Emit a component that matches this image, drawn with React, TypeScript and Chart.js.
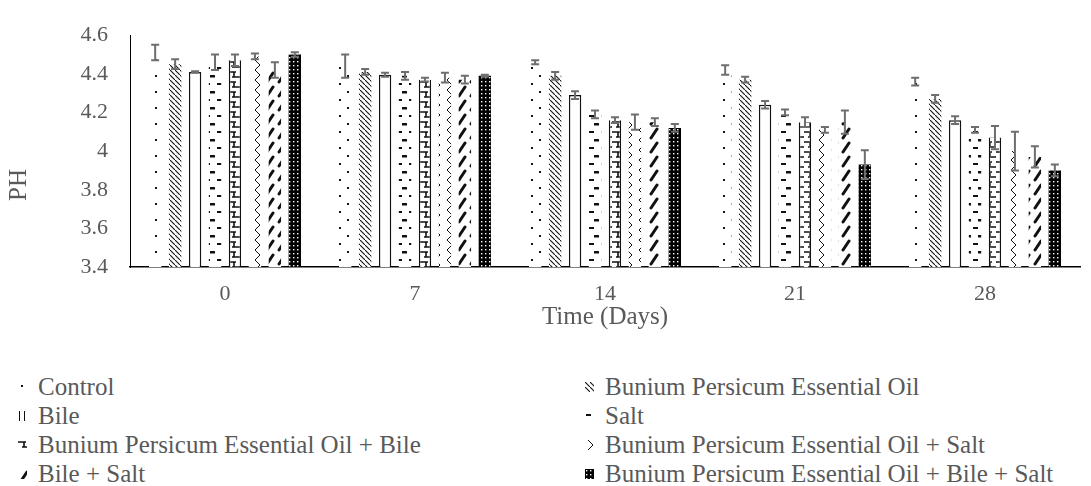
import React, { useEffect, useMemo, useRef } from "react";
import { Chart, registerables } from "chart.js";

Chart.register(...registerables);

// ---------- data ----------
const categories = ["0", "7", "14", "21", "28"];
const seriesNames = [
  "Control",
  "Bunium Persicum Essential Oil",
  "Bile",
  "Salt",
  "Bunium Persicum Essential Oil + Bile",
  "Bunium Persicum Essential Oil + Salt",
  "Bile + Salt",
  "Bunium Persicum Essential Oil + Bile + Salt",
];
const control = [4.51, 4.44, 4.46, 4.42, 4.36];
const controlErr = [0.04, 0.06, 0.01, 0.025, 0.02];
const bpeo = [4.45, 4.41, 4.39, 4.37, 4.27];
const bpeoErr = [0.025, 0.015, 0.02, 0.015, 0.02];
const bile = [4.41, 4.395, 4.29, 4.24, 4.16];
const bileErr = [0.004, 0.01, 0.02, 0.02, 0.02];
const salt = [4.46, 4.39, 4.19, 4.2, 4.11];
const saltErr = [0.04, 0.02, 0.02, 0.015, 0.015];
const bpeoBile = [4.47, 4.37, 4.16, 4.15, 4.07];
const bpeoBileErr = [0.03, 0.01, 0.015, 0.025, 0.06];
const bpeoSalt = [4.49, 4.38, 4.15, 4.11, 4.0];
const bpeoSaltErr = [0.015, 0.025, 0.04, 0.015, 0.1];
const bileSalt = [4.42, 4.37, 4.15, 4.15, 3.97];
const bileSaltErr = [0.04, 0.02, 0.02, 0.06, 0.055];
const allThree = [4.5, 4.39, 4.12, 3.93, 3.9];
const allThreeErr = [0.012, 0.005, 0.02, 0.075, 0.03];
const yTicks = [3.4, 3.6, 3.8, 4.0, 4.2, 4.4, 4.6];

const seriesValues = [control, bpeo, bile, salt, bpeoBile, bpeoSalt, bileSalt, allThree];
const seriesErrors = [controlErr, bpeoErr, bileErr, saltErr, bpeoBileErr, bpeoSaltErr, bileSaltErr, allThreeErr];
const patternKinds = ["dots", "backslash", "outline", "dashes", "brick", "zigzag", "slash", "blackdots"];

const FONT = '"Liberation Serif", "DejaVu Serif", "Noto Serif", Times, serif';
const TEXT = "#595959";

// ---------- pattern tiles ----------
function makeTile(kind: string): HTMLCanvasElement {
  const c = document.createElement("canvas");
  const g = c.getContext("2d") as CanvasRenderingContext2D;
  const size = (w: number, h: number) => {
    c.width = w;
    c.height = h;
    g.fillStyle = "#ffffff";
    g.fillRect(0, 0, w, h);
  };
  switch (kind) {
    case "dots":
      size(16, 16);
      g.fillStyle = "#111";
      g.fillRect(3, 3, 2, 2);
      g.fillRect(11, 11, 2, 2);
      break;
    case "backslash":
      size(5, 5);
      g.strokeStyle = "#111";
      g.lineWidth = 1.1;
      g.beginPath();
      g.moveTo(-1, -1);
      g.lineTo(6, 6);
      g.stroke();
      break;
    case "outline":
      size(4, 4);
      break;
    case "dashes":
      size(12, 16);
      g.fillStyle = "#111";
      g.fillRect(1, 3, 5, 2);
      g.fillRect(6, 11, 5, 2.5);
      break;
    case "brick":
      size(12, 10);
      g.strokeStyle = "#111";
      g.lineWidth = 1.6;
      g.beginPath();
      g.moveTo(0, 2);
      g.lineTo(8, 2);
      g.moveTo(4, 7);
      g.lineTo(12, 7);
      g.moveTo(6, 2);
      g.lineTo(6, 7);
      g.stroke();
      break;
    case "zigzag":
      size(12, 10);
      g.strokeStyle = "#111";
      g.lineWidth = 1;
      g.beginPath();
      g.moveTo(3, 0);
      g.lineTo(8, 5);
      g.lineTo(3, 10);
      g.stroke();
      break;
    case "slash":
      size(12, 14);
      g.strokeStyle = "#111";
      g.lineWidth = 3;
      g.lineCap = "round";
      g.beginPath();
      g.moveTo(3, 12);
      g.lineTo(9, 3);
      g.stroke();
      break;
    case "blackdots":
      size(4, 4);
      g.fillStyle = "#000";
      g.fillRect(0, 0, 4, 4);
      g.fillStyle = "#fff";
      g.fillRect(1, 1, 1.4, 1.4);
      break;
  }
  return c;
}

const errorBarPlugin = {
  id: "errorBars",
  afterDatasetsDraw(chart: any) {
    const ctx = chart.ctx;
    const yScale = chart.scales.y;
    ctx.save();
    ctx.strokeStyle = "#6e6e6e";
    ctx.lineWidth = 2;
    chart.data.datasets.forEach((ds: any, i: number) => {
      const meta = chart.getDatasetMeta(i);
      meta.data.forEach((el: any, j: number) => {
        const v = seriesValues[i][j];
        const e = seriesErrors[i][j];
        const x = el.x;
        const yt = yScale.getPixelForValue(v + e);
        const yb = yScale.getPixelForValue(v - e);
        ctx.beginPath();
        ctx.moveTo(x, yt);
        ctx.lineTo(x, yb);
        ctx.moveTo(x - 4, yt);
        ctx.lineTo(x + 4, yt);
        ctx.moveTo(x - 4, yb);
        ctx.lineTo(x + 4, yb);
        ctx.stroke();
      });
    });
    ctx.restore();
  },
};

export default function App() {
  const ref = useRef<HTMLCanvasElement>(null);
  const tiles = useMemo(() => patternKinds.map(makeTile), []);
  const urls = useMemo(() => tiles.map((t) => t.toDataURL()), [tiles]);

  useEffect(() => {
    document.body.style.margin = "0";
    const canvas = ref.current as HTMLCanvasElement;
    const ctx = canvas.getContext("2d") as CanvasRenderingContext2D;
    const fills = tiles.map((t, i) => (i === 2 ? "#ffffff" : ctx.createPattern(t, "repeat")));
    const borders: any[] = [
      0,
      0,
      { left: 1.5, right: 1.5, top: 1.5, bottom: 0 },
      0,
      { left: 1.5, right: 1.5, top: 0, bottom: 0 },
      0,
      0,
      0,
    ];
    const chart = new Chart(ctx, {
      type: "bar",
      data: {
        labels: categories,
        datasets: seriesNames.map((name, i) => ({
          label: name,
          data: seriesValues[i],
          backgroundColor: fills[i] as any,
          borderColor: "#111",
          borderWidth: borders[i],
          borderSkipped: false as any,
          categoryPercentage: 0.84,
          barPercentage: 0.62,
        })),
      },
      options: {
        animation: false,
        responsive: true,
        maintainAspectRatio: false,
        layout: { padding: { left: 0, right: 11, top: 15, bottom: 0 } },
        plugins: { legend: { display: false }, tooltip: { enabled: false } },
        scales: {
          x: {
            grid: { display: false, drawTicks: false },
            border: { display: true, color: "#000", width: 1.5 },
            ticks: { color: TEXT, font: { family: FONT, size: 22 }, padding: 14 },
            title: {
              display: true,
              text: "Time (Days)",
              color: TEXT,
              font: { family: FONT, size: 25 },
              padding: { top: 0, bottom: 8 },
            },
            afterFit: (s: any) => {
              s.height = 73;
            },
          },
          y: {
            min: 3.4,
            max: 4.6,
            grid: { display: false, drawTicks: false },
            border: { display: true, color: "#000", width: 1 },
            afterBuildTicks: (s: any) => {
              s.ticks = yTicks.map((v) => ({ value: v }));
            },
            ticks: {
              color: TEXT,
              font: { family: FONT, size: 22 },
              padding: 22,
              callback: (v: any) => String(Number(Number(v).toFixed(1))),
            },
            afterFit: (s: any) => {
              s.width = 130;
            },
          },
        },
      },
      plugins: [errorBarPlugin],
    });
    return () => chart.destroy();
  }, [tiles]);

  const legendItem = (i: number) => (
    <div key={i} style={{ display: "flex", alignItems: "center", height: 29, whiteSpace: "nowrap" }}>
      <span
        style={{
          display: "inline-block",
          width: i === 2 ? 6 : 9,
          height: 10,
          marginRight: i === 2 ? 13 : 11,
          marginLeft: i === 2 ? 1 : 0,
          boxSizing: "border-box",
          backgroundImage: i === 2 ? "none" : `url(${urls[i]})`,
          backgroundColor: "#fff",
          borderLeft: i === 2 ? "1.5px solid #111" : "none",
          borderRight: i === 2 ? "1.5px solid #111" : "none",
        }}
      />
      <span>{seriesNames[i]}</span>
    </div>
  );

  return (
    <div style={{ position: "relative", width: 1091, height: 486, fontFamily: FONT, color: TEXT }}>
      <style>{"body{margin:0}"}</style>
      <div style={{ position: "absolute", left: 0, top: 0, width: 1091, height: 340 }}>
        <canvas ref={ref} />
      </div>
      <div
        style={{
          position: "absolute",
          left: 18,
          top: 185,
          fontSize: 25,
          lineHeight: "30px",
          transform: "translate(-50%, -50%) rotate(-90deg)",
          whiteSpace: "nowrap",
        }}
      >
        PH
      </div>
      <div style={{ position: "absolute", left: 18, top: 372, fontSize: 25, lineHeight: "29px" }}>
        {[0, 2, 4, 6].map(legendItem)}
      </div>
      <div style={{ position: "absolute", left: 585, top: 372, fontSize: 25, lineHeight: "29px" }}>
        {[1, 3, 5, 7].map(legendItem)}
      </div>
    </div>
  );
}
